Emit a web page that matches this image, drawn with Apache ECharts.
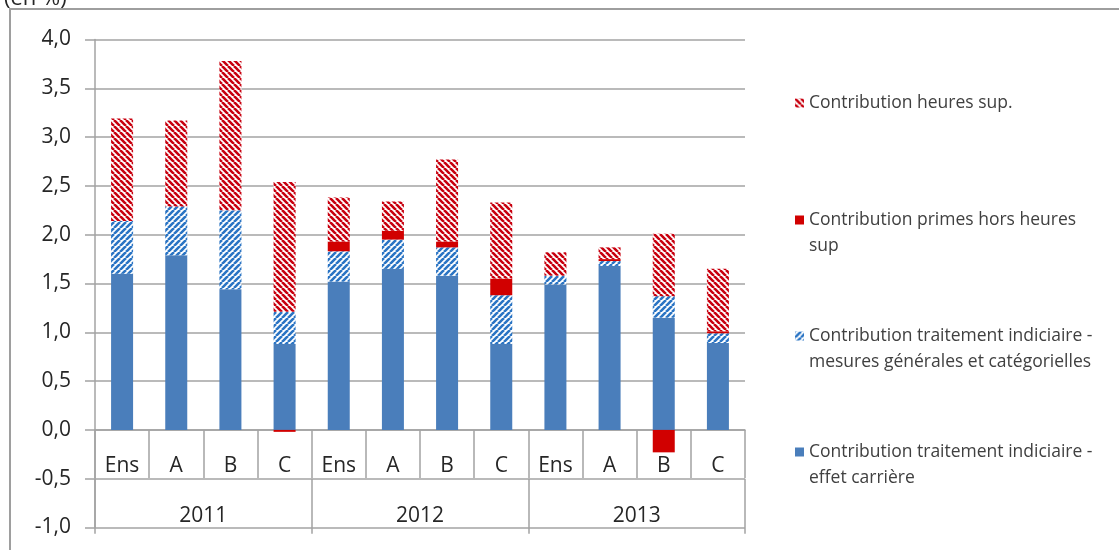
<!DOCTYPE html>
<html>
<head>
<meta charset="utf-8">
<script src="https://cdn.jsdelivr.net/npm/echarts@6/dist/echarts.min.js"></script>
<style>
  html, body { margin: 0; padding: 0; background: #fff; }
  #chart { width: 1119px; height: 550px; }
</style>
</head>
<body>
<div id="chart"></div>
<script>
// categories / data
var categories = ['Ens', 'A', 'B', 'C', 'Ens', 'A', 'B', 'C', 'Ens', 'A', 'B', 'C']
var years = ['2011', '2012', '2013']
var carriere = [1.60, 1.79, 1.44, 0.88, 1.52, 1.65, 1.58, 0.88, 1.49, 1.68, 1.15, 0.89]
var mesures = [0.54, 0.50, 0.81, 0.33, 0.31, 0.30, 0.29, 0.50, 0.09, 0.05, 0.22, 0.10]
var primes = [0, 0, 0, -0.02, 0.10, 0.09, 0.06, 0.17, 0, 0.02, -0.23, 0.02]
var heures = [1.05, 0.88, 1.53, 1.33, 0.45, 0.30, 0.84, 0.78, 0.24, 0.12, 0.64, 0.64]
var yTicks = { min: -1, max: 4, step: 0.5 }

var names = [
    'Contribution heures sup.',
    'Contribution primes hors heures sup',
    'Contribution traitement indiciaire - mesures générales et catégorielles',
    'Contribution traitement indiciaire - effet carrière'
]
var legendText = {}
legendText[names[0]] = 'Contribution heures sup.'
legendText[names[1]] = ' \nContribution primes hors heures\nsup'
legendText[names[2]] = ' \nContribution traitement indiciaire -\nmesures générales et catégorielles'
legendText[names[3]] = ' \nContribution traitement indiciaire -\neffet carrière'

var gridColor = '#a3a3a3'
var font = 'Open Sans'
var gridTop = 39.5, gridBottom = 22.5
var gridH = 550 - gridTop - gridBottom
// category row sits on the zero line, year row half a step lower
var zeroOffset = gridH * (0 - yTicks.min) / (yTicks.max - yTicks.min)
var yearOffset = gridH * (-yTicks.step - yTicks.min) / (yTicks.max - yTicks.min)

// diagonal hatch tile
function hatch(color, up) {
    var s = 6
    var c = document.createElement('canvas')
    c.width = s; c.height = s
    var g = c.getContext('2d')
    g.fillStyle = '#fff'
    g.fillRect(0, 0, s, s)
    g.strokeStyle = color
    g.lineWidth = 2.6
    g.beginPath()
    for (var k = -1; k <= 1; k++) {
        if (up) { g.moveTo(k * s, s); g.lineTo(k * s + s, 0) }
        else { g.moveTo(k * s, 0); g.lineTo(k * s + s, s) }
    }
    g.stroke()
    return { image: c, repeat: 'repeat' }
}

var blue = '#4a7ebb'
var red = '#d10000'
var blueHatch = hatch('#2a74c4', true)
var redHatch = hatch('#c8000f', false)

var Chart = echarts.init(document.getElementById('chart'))

function legendAt(name, top) {
    return {
        data: [name],
        orient: 'vertical',
        left: 795,
        top: top,
        padding: 0,
        icon: 'rect',
        itemWidth: 9,
        itemHeight: 9,
        selectedMode: false,
        formatter: function (n) { return legendText[n] },
        textStyle: { fontFamily: font, fontSize: 17.5, color: '#404040', lineHeight: 26 }
    }
}

var option = {
    animation: false,
    grid: { left: 95, right: 374, top: gridTop, bottom: gridBottom, outerBoundsMode: 'none' },
    legend: [
        legendAt(names[0], 90),
        legendAt(names[1], 181),
        legendAt(names[2], 297),
        legendAt(names[3], 413)
    ],
    graphic: [
        {
            type: 'rect',
            shape: { x: 10, y: 9, width: 1200, height: 600 },
            style: { fill: 'none', stroke: '#9e9e9e', lineWidth: 2 },
            silent: true
        },
        {
            type: 'text',
            style: { x: 4, y: 10, text: '(en %)', verticalAlign: 'bottom', font: '22px "Open Sans"', fill: '#262626' },
            silent: true
        }
    ],
    xAxis: [
        {
            type: 'category',
            data: categories,
            position: 'bottom',
            offset: -zeroOffset,
            axisLine: { onZero: false, lineStyle: { color: gridColor, width: 1.5 } },
            axisTick: { show: true, interval: 0, length: 48, lineStyle: { color: gridColor, width: 1.5 } },
            axisLabel: { interval: 0, margin: 26, fontFamily: font, fontSize: 21, color: '#262626' }
        },
        {
            type: 'category',
            data: years,
            position: 'bottom',
            offset: -yearOffset,
            axisLine: { show: false, onZero: false },
            axisTick: { show: true, interval: 0, length: 55, lineStyle: { color: gridColor, width: 1.5 } },
            axisLabel: { interval: 0, margin: 27, fontFamily: font, fontSize: 21, color: '#262626' }
        }
    ],
    yAxis: {
        type: 'value',
        min: yTicks.min,
        max: yTicks.max,
        interval: yTicks.step,
        axisLine: { show: true, lineStyle: { color: gridColor, width: 1.5 } },
        axisTick: { show: true, length: 10, lineStyle: { color: gridColor, width: 1.5 } },
        splitLine: { lineStyle: { color: gridColor, width: 1.5 } },
        axisLabel: {
            margin: 24,
            fontFamily: font,
            fontSize: 21,
            color: '#262626',
            formatter: function (v) { return v.toFixed(1).replace('.', ',') }
        }
    },
    series: [
        { name: names[3], type: 'bar', stack: 'total', barWidth: 22, data: carriere, itemStyle: { color: blue } },
        { name: names[2], type: 'bar', stack: 'total', barWidth: 22, data: mesures, itemStyle: { color: blueHatch } },
        { name: names[1], type: 'bar', stack: 'total', barWidth: 22, data: primes, itemStyle: { color: red } },
        { name: names[0], type: 'bar', stack: 'total', barWidth: 22, data: heures, itemStyle: { color: redHatch } }
    ]
}
Chart.setOption(option)
</script>
</body>
</html>
